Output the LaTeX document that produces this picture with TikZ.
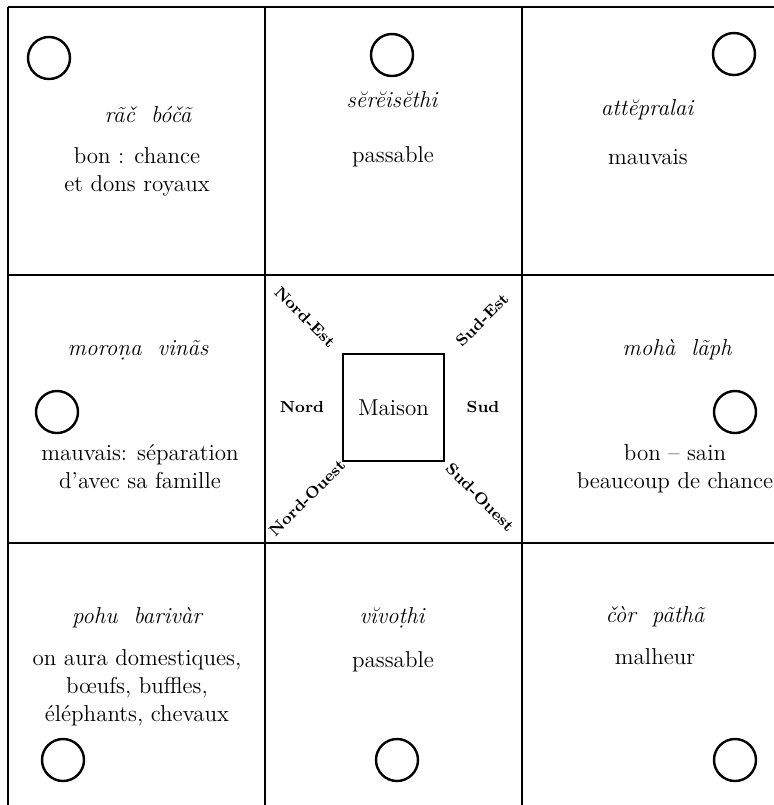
\documentclass[tikz,border=0pt]{standalone}
\usepackage{fontspec}
\usetikzlibrary{positioning}

\begin{document}
\begin{tikzpicture}[x=0.5pt,y=-0.5pt,
  grid/.style={line width=1pt},
  ring/.style={draw,circle,line width=1.2pt,minimum size=21pt,inner sep=0pt},
  nom/.style={font=\fontsize{11.5}{14}\selectfont\itshape},
  txt/.style={align=center,font=\fontsize{11.5}{14}\selectfont},
  dir/.style={font=\fontsize{8}{9}\selectfont\bfseries,inner sep=0pt}]
  \useasboundingbox (0,0) rectangle (774,805);
  % grille
  \foreach \x in {8,265,522} \draw[grid] (\x,7) -- (\x,805);
  \foreach \y in {7,275,543} \draw[grid] (8,\y) -- (774,\y);
  % rang du haut
  \node[ring] (c1) at (49,58) {};
  \node[nom] (n1) at (148,115) {rãč\ \ bóčã};
  \node[txt] (t1) at (137,172) {bon : chance\\et dons royaux};
  \node[ring] (c2) at (392,55) {};
  \node[nom] (n2) at (392,100) {sĕrĕisĕthi};
  \node[txt] (t2) at (393,157) {passable};
  \node[ring] (c3) at (734,54) {};
  \node[nom] (n3) at (647,110) {attĕpralai};
  \node[txt] (t3) at (648,157) {mauvais};
  % rang du milieu
  \node[nom] (n4) at (138,350) {moroṇa\ \ vinãs};
  \node[ring] (c4) at (57,412) {};
  \node[txt] (t4) at (140,467) {mauvais: séparation\\d'avec sa famille};
  \node[draw,line width=1pt,minimum width=50.5pt,minimum height=53.5pt,
    font=\fontsize{11.5}{14}\selectfont] (maison) at (393.5,407.5) {Maison};
  \node[dir] (nord) at (302,407) {Nord};
  \node[dir] (sud) at (483,407) {Sud};
  \node[dir,rotate=-45] (ne) at (305,317) {Nord-Est};
  \node[dir,rotate=45] (se) at (482,320) {Sud-Est};
  \node[dir,rotate=45] (no) at (307,498) {Nord-Ouest};
  \node[dir,rotate=-45] (so) at (480,497) {Sud-Ouest};
  \node[nom] (n6) at (677,350) {mohà\ \ lãph};
  \node[ring] (c6) at (735,412) {};
  \node[txt] (t6) at (675,469) {bon -- sain\\beaucoup de chance};
  % rang du bas
  \node[nom] (n7) at (137,618) {pohu\ \ barivàr};
  \node[txt] (t7) at (137,688) {on aura domestiques,\\bœufs, buffles,\\éléphants, chevaux};
  \node[ring] (c7) at (63,760) {};
  \node[nom] (n8) at (392,618) {vĭvoṭhi};
  \node[txt] (t8) at (393,662) {passable};
  \node[ring] (c8) at (397,760) {};
  \node[nom] (n9) at (655,617) {čòr\ \ pãthã};
  \node[txt] (t9) at (655,657) {malheur};
  \node[ring] (c9) at (735,760) {};
\end{tikzpicture}
\end{document}
